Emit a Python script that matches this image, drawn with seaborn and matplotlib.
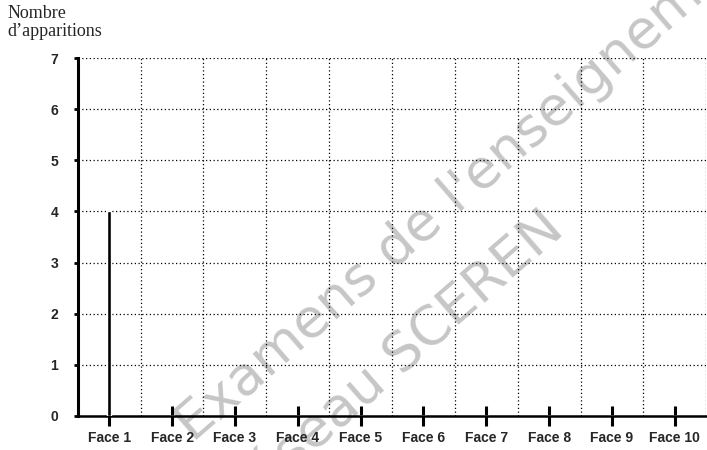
import matplotlib
matplotlib.use("Agg")
import matplotlib.pyplot as plt
import seaborn as sns
import pandas as pd
import numpy as np

# Data
faces = ["Face 1", "Face 2", "Face 3", "Face 4", "Face 5",
         "Face 6", "Face 7", "Face 8", "Face 9", "Face 10"]
apparitions = [4, 0, 0, 0, 0, 0, 0, 0, 0, 0]
y_ticks = [0, 1, 2, 3, 4, 5, 6, 7]

df = pd.DataFrame({"face": faces, "n": apparitions})

sns.set_style("white")
plt.rcParams["font.family"] = ["Liberation Sans", "DejaVu Sans"]

fig = plt.figure(figsize=(7.07, 4.5), dpi=100)
ax = fig.add_axes([0.110, 0.0756, 0.889, 0.7954])
ax.patch.set_alpha(0)

sns.barplot(data=df, x="face", y="n", color="black", width=0.065,
            saturation=1, ax=ax, zorder=3)

ax.set_xlim(-0.5, 9.5)
ax.set_ylim(0, 7)
ax.set_yticks(y_ticks)
ax.set_yticklabels([str(v) for v in y_ticks], fontweight="bold", fontsize=10)
ax.set_xticks(range(len(faces)))
ax.set_xticklabels(faces, fontweight="bold", fontsize=10)
ax.set_xlabel("")
ax.set_ylabel("")

# dotted grid: each integer horizontally, each half category vertically
ax.set_xticks(np.arange(-0.5, 10, 0.5), minor=True)
ax.grid(True, which="minor", axis="x", linestyle=(0, (1, 2)), color="black", linewidth=0.9)
ax.grid(True, which="major", axis="y", linestyle=(0, (1, 2)), color="black", linewidth=0.9)
ax.tick_params(axis="x", which="minor", length=0, bottom=False)
ax.tick_params(axis="x", which="major", bottom=True, direction="inout",
               length=14, width=2.2, pad=4, color="black")
ax.tick_params(axis="y", left=True, direction="out", length=3, width=2, pad=11, color="black")

for s in ["top", "right"]:
    ax.spines[s].set_visible(False)
ax.spines["left"].set_linewidth(2.2)
ax.spines["bottom"].set_linewidth(1.8)
ax.spines["left"].set_color("black")
ax.spines["bottom"].set_color("black")

fig.text(0.011, 0.969, "Nombre", family="Liberation Serif", fontsize=13, va="center")
fig.text(0.011, 0.929, "d\u2019apparitions", family="Liberation Serif", fontsize=13, va="center")

# watermark (behind the grid)
wm = dict(fontsize=39, color="#c6c6c6", rotation=41, rotation_mode="anchor",
          family="DejaVu Sans", zorder=-1)
fig.text(194 / 707, 1 - 444 / 450, "Examens de l'enseignement", ha="left",
         va="baseline", **wm)
fig.text(566 / 707, 1 - 232 / 450, "réseau SCEREN", ha="right",
         va="baseline", **wm)

fig.savefig("out.png", dpi=100)
